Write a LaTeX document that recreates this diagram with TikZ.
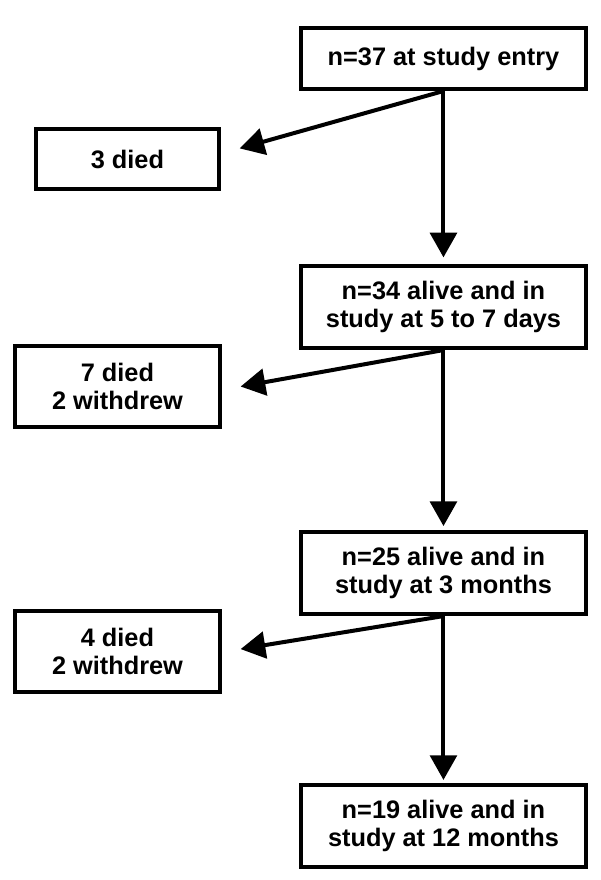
\documentclass[tikz,border=0pt]{standalone}
\usepackage{fontspec}
\setmainfont{Liberation Sans}
\usepackage{xcolor}
\usepackage{tikz}
\usetikzlibrary{arrows.meta}
\definecolor{lineColor}{HTML}{000000}

\begin{document}
\begin{tikzpicture}[>={Triangle[length=18.5pt,width=20pt]}, node distance=186.4pt,
	caja/.style={draw=lineColor, line width=3pt, minimum width=213.75pt, minimum height=61.5pt, align=center, inner sep=2pt, font=\fontsize{19}{21}\selectfont\bfseries},
	lado/.style={caja, minimum width=153.75pt, minimum height=60.75pt},
	flecha/.style={->, line width=3pt, draw=lineColor}]
	\useasboundingbox (0,0) rectangle (450pt,-660pt);
	
	% Etapas
	\node[caja, minimum height=45.75pt] (entry) at (332.6pt,-43.9pt) {n=37 at study entry};
	\node[caja, below of=entry] (days) {n=34 alive and in\\study at 5 to 7 days};
	\node[caja, below of=days, yshift=-13.1pt] (threem) {n=25 alive and in\\study at 3 months};
	\node[caja, below of=threem, yshift=-3pt] (twelvem) {n=19 alive and in\\study at 12 months};
	
	% Salidas
	\node[lado, minimum width=137.25pt, minimum height=45pt, left of=entry, xshift=-50.6pt, yshift=-75.4pt] (died1) {3 died};
	\node[lado, left of=days, xshift=-58.1pt, yshift=-59.6pt] (died2) {7 died\\2 withdrew};
	\node[lado, left of=threem, xshift=-58.1pt, yshift=-58.5pt] (died3) {4 died\\2 withdrew};
	\coordinate (tip1) at ([xshift=14pt, yshift=8pt]died1.east);
	\coordinate (tip2) at ([xshift=14pt]died2.east);
	\coordinate (tip3) at ([xshift=14pt, yshift=1.5pt]died3.east);
	
	% Conexiones
	\draw[flecha, shorten >=5pt] (entry) -- (days);
	\draw[flecha, shorten >=3pt] (days) -- (threem);
	\draw[flecha, shorten >=2pt] (threem) -- (twelvem);
	\draw[flecha] (entry.south) -- (tip1);
	\draw[flecha] (days.south) -- (tip2);
	\draw[flecha] (threem.south) -- (tip3);
\end{tikzpicture}
\end{document}
